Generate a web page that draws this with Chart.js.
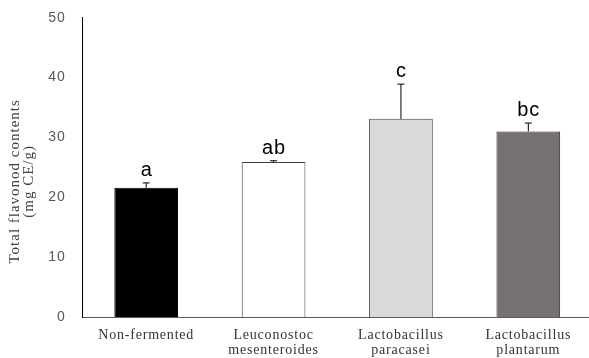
<!DOCTYPE html>
<html>
<head>
<meta charset="utf-8">
<script src="https://cdn.jsdelivr.net/npm/chart.js@4"></script>
<style>
  html, body { margin: 0; padding: 0; background: #fff; overflow: hidden; }
  #wrap { width: 592px; height: 358px; }
</style>
</head>
<body>
<div id="wrap"><canvas id="chartCanvas"></canvas></div>
<script>
// data
var categories = [
    ['Non-fermented'],
    ['Leuconostoc', 'mesenteroides'],
    ['Lactobacillus', 'paracasei'],
    ['Lactobacillus', 'plantarum']
]
var values  = [21.6, 25.9, 33.1, 31.0]
var errors  = [0.8, 0.2, 5.8, 1.4]
var letters = ['a', 'ab', 'c', 'bc']
var yTitle  = ['Total flavonod contents', '(mg CE/g)']

var barColors    = ['#000000', '#ffffff', '#d9d9d9', '#767171']
var borderColors = ['#000000', '#404040', '#404040', '#262626']

// the source text looks a bit stretched, so widen letters a little
var spacingPlugin = {
    id: 'spacing',
    beforeUpdate: function (chart) { chart.ctx.letterSpacing = '0.8px' },
    beforeDraw: function (chart) { chart.ctx.letterSpacing = '0.8px' }
}

// y title sits a bit lower than the axis middle in the original, so draw it by hand
var yTitlePlugin = {
    id: 'yTitle',
    afterDraw: function (chart) {
        var ctx = chart.ctx
        var area = chart.chartArea
        var cy = (area.top + area.bottom) / 2 + 14
        ctx.save()
        ctx.letterSpacing = '1px'
        ctx.fillStyle = '#404040'
        ctx.font = '15px "Liberation Serif", "Times New Roman", serif'
        ctx.textAlign = 'center'
        ctx.textBaseline = 'middle'
        yTitle.forEach(function (line, i) {
            ctx.save()
            ctx.translate(15 + i * 14, cy)
            ctx.rotate(-Math.PI / 2)
            ctx.fillText(line, 0, 0)
            ctx.restore()
        })
        ctx.restore()
    }
}

// error bars + significance letters on top of each bar
var errorPlugin = {
    id: 'errorBars',
    afterDatasetsDraw: function (chart) {
        var ctx = chart.ctx
        var meta = chart.getDatasetMeta(0)
        var yScale = chart.scales.y
        ctx.save()
        meta.data.forEach(function (bar, i) {
            var yTop = yScale.getPixelForValue(values[i] + errors[i])
            var yBar = yScale.getPixelForValue(values[i])
            ctx.strokeStyle = '#000'
            ctx.lineWidth = 1
            ctx.beginPath()
            ctx.moveTo(bar.x, yBar)
            ctx.lineTo(bar.x, yTop)
            ctx.moveTo(bar.x - 3.5, yTop)
            ctx.lineTo(bar.x + 3.5, yTop)
            ctx.stroke()

            ctx.letterSpacing = '1px'
            ctx.fillStyle = '#000'
            ctx.font = '20px "Liberation Sans", Arial, sans-serif'
            ctx.textAlign = 'center'
            ctx.textBaseline = 'alphabetic'
            ctx.fillText(letters[i], bar.x + 0.5, yTop - 7)
        })
        ctx.restore()
    }
}

var myChart = new Chart(document.getElementById('chartCanvas'), {
    type: 'bar',
    data: {
        labels: categories,
        datasets: [{
            data: values,
            backgroundColor: barColors,
            borderColor: borderColors,
            borderWidth: 1,
            barPercentage: 0.5,
            categoryPercentage: 1
        }]
    },
    options: {
        responsive: true,
        maintainAspectRatio: false,
        animation: false,
        layout: { padding: { left: 0, right: 0, top: 17.7, bottom: 0 } },
        plugins: {
            legend: { display: false },
            tooltip: { enabled: false }
        },
        scales: {
            x: {
                afterFit: function (scale) { scale.height = 41 },
                grid: { display: false, drawTicks: false },
                border: { display: true, color: '#595959', width: 1 },
                ticks: {
                    color: '#333',
                    padding: 10,
                    maxRotation: 0,
                    autoSkip: false,
                    font: { family: '"Liberation Serif", "Times New Roman", serif', size: 14, lineHeight: 1.12 }
                }
            },
            y: {
                min: 0,
                max: 50,
                afterFit: function (scale) {
                    scale.width = 82.5
                    scale.paddingTop = 0
                    scale.paddingBottom = 0
                },
                grid: { display: false, drawTicks: false },
                border: { display: true, color: '#000', width: 1 },
                ticks: {
                    stepSize: 10,
                    color: '#595959',
                    padding: 17,
                    font: { family: '"Liberation Sans", Arial, sans-serif', size: 14 }
                }
            }
        }
    },
    plugins: [spacingPlugin, errorPlugin, yTitlePlugin]
})
</script>
</body>
</html>
